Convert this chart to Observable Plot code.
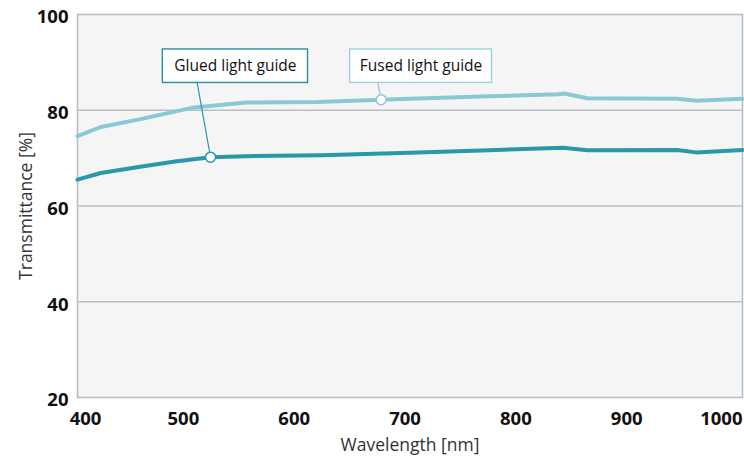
<!DOCTYPE html>
<html><head><meta charset="utf-8">
<script src="https://cdn.jsdelivr.net/npm/d3@7"></script>
<script src="https://cdn.jsdelivr.net/npm/@observablehq/plot@0.6"></script>
<style>html,body{margin:0;padding:0;background:#fff;overflow:hidden}</style>
</head><body><div id="chart"></div>
<script>
// Data
const fusedWavelength = [400, 421, 458, 503, 552, 616, 674, 700, 771, 834, 839, 860, 941, 958, 1000];
const fusedValue      = [74.6, 76.5, 78.2, 80.5, 81.6, 81.7, 82.2, 82.4, 82.9, 83.35, 83.5, 82.5, 82.4, 82.0, 82.4];
const gluedWavelength = [400, 421, 458, 488, 520, 552, 620, 700, 771, 838, 860, 941, 958, 1000];
const gluedValue      = [65.5, 66.9, 68.25, 69.3, 70.2, 70.4, 70.6, 71.1, 71.65, 72.15, 71.65, 71.7, 71.2, 71.7];

const seriesNames = ["Glued light guide", "Fused light guide"];
const markerWavelength = [520, 674];
const markerValue = [70.2, 82.2];

const xFirstTick = [400];
const xTicks = [500, 600, 700, 800, 900];
const xLastTick = [1000];
const yTicks = [20, 40, 60, 80, 100];
const gridValues = [40, 60, 80];
const xLabel = "Wavelength [nm]";
const yLabel = "Transmittance [%]";

// styling / layout (not data)
const colors = {glued: "#2b97aa", fused: "#89c9d6", gluedBox: "#2a8fa4", fusedBox: "#9dd2dd"};
const FONT = "'Open Sans', 'Noto Sans', sans-serif";

const fused = fusedWavelength.map((w, i) => ({w, v: fusedValue[i]}));
const glued = gluedWavelength.map((w, i) => ({w, v: gluedValue[i]}));

// annotation layout in data units
const boxes = [
  {name: seriesNames[0], x1: 477, x2: 608, y1: 85.7, y2: 92.7, lx: 508, mx: markerWavelength[0], my: markerValue[0], stroke: colors.gluedBox, line: colors.glued},
  {name: seriesNames[1], x1: 646, x2: 774, y1: 85.7, y2: 92.7, lx: 671, mx: markerWavelength[1], my: markerValue[1], stroke: colors.fusedBox, line: colors.fused}
];

const tickStyle = {tickSize: 0, label: null, fontSize: 18.5, fontWeight: "bold", fill: "#111", tickFormat: d3.format("d")};

const chart = Plot.plot({
  width: 744,
  height: 460,
  marginLeft: 77,
  marginRight: 2,
  marginTop: 14,
  marginBottom: 63,
  style: {fontFamily: FONT, background: "#fff", overflow: "visible"},
  x: {domain: [400, 1000]},
  y: {domain: [20, 100]},
  marks: [
    Plot.frame({fill: "#f5f5f5", stroke: null}),
    Plot.ruleY(gridValues, {stroke: "#b7bfc3", strokeWidth: 1.3}),
    Plot.frame({stroke: "#b7bfc3", strokeWidth: 1.6}),
    Plot.line(fused, {x: "w", y: "v", stroke: colors.fused, strokeWidth: 4, strokeLinejoin: "round"}),
    Plot.line(glued, {x: "w", y: "v", stroke: colors.glued, strokeWidth: 4, strokeLinejoin: "round"}),
    Plot.link(boxes, {x1: "lx", y1: "y1", x2: "mx", y2: "my", stroke: "line", strokeWidth: 1.2}),
    Plot.rect(boxes, {x1: "x1", x2: "x2", y1: "y1", y2: "y2", fill: "white", stroke: "stroke", strokeWidth: 1.4}),
    Plot.text(boxes, {x: d => (d.x1 + d.x2) / 2, y: d => (d.y1 + d.y2) / 2, text: "name", fontSize: 15.5, fill: "#111", fontFamily: FONT}),
    Plot.dot(boxes, {x: "mx", y: "my", r: 5, fill: "white", stroke: "line", strokeWidth: 1.5}),
    Plot.axisY({...tickStyle, ticks: yTicks, tickPadding: 9, dy: 3}),
    Plot.axisX({...tickStyle, ticks: xFirstTick, tickPadding: 14, dx: 8}),
    Plot.axisX({...tickStyle, ticks: xTicks, tickPadding: 14, dx: -5}),
    Plot.axisX({...tickStyle, ticks: xLastTick, tickPadding: 14, textAnchor: "end"}),
    Plot.text([xLabel], {frameAnchor: "bottom", dy: 48, textAnchor: "middle", lineAnchor: "middle", fontSize: 17.5, fill: "#333", fontFamily: FONT}),
    Plot.text([yLabel], {frameAnchor: "left", dx: -51, rotate: -90, textAnchor: "middle", lineAnchor: "middle", fontSize: 17.5, fill: "#333", fontFamily: FONT})
  ]
});
document.getElementById("chart").appendChild(chart);
</script>
</body></html>
